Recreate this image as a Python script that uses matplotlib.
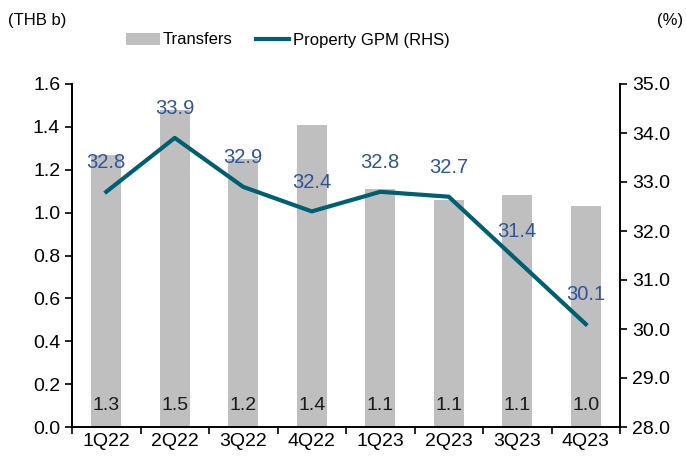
import matplotlib
matplotlib.use("Agg")
import matplotlib.pyplot as plt
import numpy as np

plt.rcParams['font.family'] = ['Liberation Sans', 'DejaVu Sans']

quarters = ['1Q22', '2Q22', '3Q22', '4Q22', '1Q23', '2Q23', '3Q23', '4Q23']
transfers = [1.27, 1.48, 1.25, 1.41, 1.11, 1.06, 1.08, 1.03]
transfer_labels = ['1.3', '1.5', '1.2', '1.4', '1.1', '1.1', '1.1', '1.0']
gpm = [32.8, 33.9, 32.9, 32.4, 32.8, 32.7, 31.4, 30.1]

bar_col = '#BFBFBF'
line_col = '#005F73'
lab_col = '#2F5597'
fs = 14
nfs = 12  # legend / unit labels (narrower in the original)

fig = plt.figure(figsize=(6.86, 4.57), dpi=100)
ax = fig.add_axes([72 / 686, 30 / 457, 548 / 686, 343 / 457])
ax2 = ax.twinx()

x = np.arange(len(quarters))
bars = ax.bar(x, transfers, width=0.44, color=bar_col, label='Transfers', zorder=1)
for xi, t in zip(x, transfer_labels):
    ax.text(xi, 0.1, t, ha='center', va='center', fontsize=fs, color='#1a1a1a')

ax.set_xlim(-0.5, len(quarters) - 0.5)
ax.set_ylim(0, 1.6)
ax.set_yticks(np.arange(0, 1.61, 0.2))
ax.set_yticklabels([f'{v:.1f}' for v in np.arange(0, 1.61, 0.2)])
ax.set_xticks(np.arange(-0.5, len(quarters) - 0.4, 1), minor=False)
ax.set_xticklabels([])
ax.set_xticks(x, minor=True)
ax.set_xticklabels(quarters, minor=True)
ax.tick_params(axis='x', which='minor', length=0, labelsize=fs, pad=4)
ax.tick_params(axis='x', which='major', length=5, width=1.2, direction='out')
ax.tick_params(axis='y', labelsize=fs, length=5, width=1.2, direction='out')

ln, = ax2.plot(x, gpm, color=line_col, lw=3, label='Property GPM (RHS)', zorder=3)
for xi, g in zip(x, gpm):
    ax2.annotate(f'{g:.1f}', (xi, g), xytext=(0, 21), textcoords='offset points',
                 ha='center', va='center', fontsize=14.5, color=lab_col)
ax2.set_ylim(28, 35)
ax2.set_yticks(np.arange(28, 35.1, 1))
ax2.set_yticklabels([f'{v:.1f}' for v in np.arange(28, 35.1, 1)])
ax2.tick_params(axis='y', labelsize=fs, length=5, width=1.2, direction='out')

for a in (ax, ax2):
    a.spines['top'].set_visible(False)
    for s in ('left', 'right', 'bottom'):
        a.spines[s].set_linewidth(1.2)

fig.text(8 / 686, 1 - 21 / 457, '(THB b)', fontsize=nfs, va='center', ha='left')
fig.text(683 / 686, 1 - 21 / 457, '(%)', fontsize=nfs, va='center', ha='right')

fig.legend(handles=[bars, ln], loc='center', bbox_to_anchor=(288 / 686, 1 - 40 / 457),
           ncol=2, frameon=False, fontsize=nfs,
           handlelength=2.0, columnspacing=1.4, handletextpad=0.2)

fig.savefig('out.png', dpi=100)
